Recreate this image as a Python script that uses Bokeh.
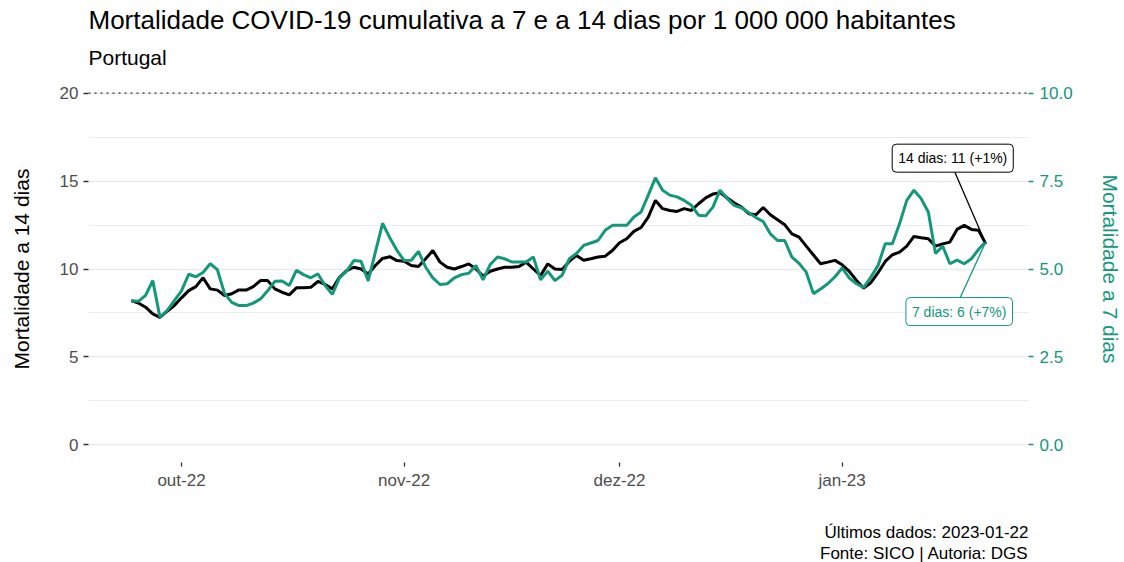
import pandas as pd
from bokeh.plotting import figure
from bokeh.models import Range1d, LinearAxis, FixedTicker, Span, Label, Title, NumeralTickFormatter
from bokeh.embed import file_html
from bokeh.resources import INLINE

# ---------------- data ----------------
START = "2022-09-24"
END = "2023-01-21"

# 14-day cumulative mortality per 1 000 000 (left axis)
mort14 = [
    8.20, 8.07, 7.83, 7.45, 7.25, 7.60, 7.92, 8.36, 8.77, 9.00,
    9.50, 8.87, 8.80, 8.49, 8.59, 8.81, 8.80, 9.00, 9.34, 9.34,
    8.87, 8.68, 8.53, 8.93, 8.93, 8.96, 9.29, 9.12, 8.87, 9.53,
    9.91, 10.10, 10.00, 9.72, 10.20, 10.60, 10.70, 10.48, 10.44, 10.20,
    10.14, 10.58, 11.05, 10.39, 10.10, 10.00, 10.14, 10.29, 10.00, 9.60,
    9.87, 10.00, 10.10, 10.10, 10.14, 10.39, 10.00, 9.63, 10.29, 10.00,
    9.97, 10.43, 10.77, 10.50, 10.58, 10.68, 10.73, 11.05, 11.49, 11.72,
    12.14, 12.36, 12.95, 13.90, 13.43, 13.33, 13.27, 13.43, 13.33, 13.71,
    14.04, 14.26, 14.34, 14.04, 13.75, 13.52, 13.14, 13.08, 13.50, 13.08,
    12.80, 12.52, 12.00, 11.81, 11.30, 10.80, 10.30, 10.39, 10.49, 10.24,
    9.86, 9.35, 8.91, 9.22, 9.79, 10.43, 10.81, 10.96, 11.30, 11.85,
    11.78, 11.72, 11.30, 11.43, 11.53, 12.25, 12.48, 12.25, 12.20, 11.43,
]

# 7-day cumulative mortality per 1 000 000 (right axis)
mort7 = [
    4.10, 4.08, 4.25, 4.67, 3.63, 3.82, 4.10, 4.38, 4.85, 4.78,
    4.90, 5.15, 4.98, 4.30, 4.05, 3.96, 3.96, 4.03, 4.15, 4.38,
    4.65, 4.66, 4.53, 4.96, 4.84, 4.75, 4.86, 4.53, 4.28, 4.75,
    4.94, 5.24, 5.22, 4.66, 5.48, 6.30, 5.89, 5.53, 5.24, 5.25,
    5.50, 5.05, 4.75, 4.56, 4.58, 4.75, 4.84, 4.88, 5.10, 4.69,
    5.13, 5.34, 5.29, 5.20, 5.20, 5.20, 5.34, 4.69, 4.94, 4.67,
    4.82, 5.29, 5.44, 5.67, 5.74, 5.81, 6.10, 6.24, 6.24, 6.24,
    6.48, 6.62, 7.10, 7.59, 7.24, 7.10, 7.05, 6.95, 6.81, 6.53,
    6.51, 6.76, 7.24, 7.00, 6.80, 6.74, 6.60, 6.46, 6.35, 6.00,
    5.81, 5.81, 5.34, 5.16, 4.91, 4.30, 4.43, 4.58, 4.78, 5.03,
    4.74, 4.58, 4.48, 4.77, 5.10, 5.72, 5.72, 6.29, 6.95, 7.24,
    7.00, 6.62, 5.44, 5.65, 5.15, 5.25, 5.15, 5.29, 5.56, 5.77,
]

month_ticks = ["2022-10-01", "2022-11-01", "2022-12-01", "2023-01-01"]
month_labels = ["out-22", "nov-22", "dez-22", "jan-23"]
left_ticks = [0, 5, 10, 15, 20]
left_minor = [2.5, 7.5, 12.5, 17.5]
right_ticks = [0, 2.5, 5, 7.5, 10]

label14 = "14 dias: 11 (+1%)"
label7 = "7 dias: 6 (+7%)"
title_text = "Mortalidade COVID-19 cumulativa a 7 e a 14 dias por 1 000 000 habitantes"
subtitle_text = "Portugal"
caption_lines = ["Últimos dados: 2023-01-22", "Fonte: SICO | Autoria: DGS"]
ylab_left = "Mortalidade a 14 dias"
ylab_right = "Mortalidade a 7 dias"

# ---------------- styling ----------------
FONT = "Liberation Sans"
GREEN = "#14977B"
GRID = "#EBEBEB"

dates = pd.date_range(START, END, freq="D")
span_days = (dates[-1] - dates[0])
pad = span_days * 0.05
x_start = dates[0] - pad
x_end = dates[-1] + pad

p = figure(
    width=1124, height=562,
    x_axis_type="datetime",
    x_range=Range1d(x_start, x_end),
    y_range=Range1d(-1, 21),
    output_backend="svg", toolbar_location=None,
    min_border_left=88, min_border_right=94,
    min_border_top=10, min_border_bottom=100,
)
p.outline_line_color = None
p.background_fill_color = "white"
p.border_fill_color = "white"

p.extra_y_ranges = {"y7": Range1d(-0.5, 10.5)}

# grid
p.xgrid.grid_line_color = None
yt = FixedTicker(ticks=left_ticks, minor_ticks=left_minor)
p.ygrid.ticker = yt
p.ygrid.grid_line_color = GRID
p.ygrid.grid_line_width = 1.3
p.ygrid.minor_grid_line_color = GRID
p.ygrid.minor_grid_line_width = 1.0

# left axis
ya = p.yaxis[0]
ya.ticker = yt
ya.axis_line_color = None
ya.minor_tick_line_color = None
ya.major_tick_in = 0
ya.major_tick_out = 5
ya.major_tick_line_color = "#333333"
ya.major_tick_line_width = 1.3
ya.major_label_text_color = "#4D4D4D"
ya.major_label_text_font = FONT
ya.major_label_text_font_size = "17px"
ya.major_label_standoff = 5
ya.axis_label = ylab_left
ya.axis_label_text_font = FONT
ya.axis_label_text_font_size = "21px"
ya.axis_label_text_font_style = "normal"
ya.axis_label_text_color = "black"
ya.axis_label_standoff = 24

# x axis
xa = p.xaxis[0]
tick_ms = [int(pd.Timestamp(d).value // 10**6) for d in month_ticks]
xa.ticker = FixedTicker(ticks=tick_ms)
overrides = {}
for t, lab in zip(tick_ms, month_labels):
    overrides[t] = lab
    overrides[str(t)] = lab
xa.major_label_overrides = overrides
xa.axis_line_color = None
xa.minor_tick_line_color = None
xa.major_tick_in = 0
xa.major_tick_out = 4
xa.major_tick_line_color = "#333333"
xa.major_tick_line_width = 1.3
xa.major_label_text_color = "#4D4D4D"
xa.major_label_text_font = FONT
xa.major_label_text_font_size = "17px"
xa.major_label_standoff = 4

# right axis
ra = LinearAxis(y_range_name="y7", ticker=FixedTicker(ticks=right_ticks),
                formatter=NumeralTickFormatter(format="0.0"))
ra.axis_line_color = None
ra.minor_tick_line_color = None
ra.major_tick_in = 0
ra.major_tick_out = 5
ra.major_tick_line_color = GREEN
ra.major_tick_line_width = 1.3
ra.major_label_text_color = GREEN
ra.major_label_text_font = FONT
ra.major_label_text_font_size = "17px"
ra.major_label_standoff = 6
ra.axis_label = ylab_right
ra.axis_label_text_font = FONT
ra.axis_label_text_font_size = "21px"
ra.axis_label_text_font_style = "normal"
ra.axis_label_text_color = GREEN
ra.axis_label_standoff = 23
p.add_layout(ra, "right")

# dotted reference line at top
p.add_layout(Span(location=left_ticks[-1], dimension="width", line_color="#333333",
                  line_dash="2 4", line_width=1.3))

# series
p.line(dates, mort14, line_color="black", line_width=3)
p.line(dates, mort7, line_color=GREEN, line_width=3, y_range_name="y7")

# labels with connectors
last = dates[-1]
day = pd.Timedelta(days=1)
p.segment(x0=[last - 4.3 * day], y0=[15.5], x1=[last], y1=[mort14[-1]],
          line_color="black", line_width=1.3)
p.segment(x0=[last - 3.6 * day], y0=[4.17], x1=[last], y1=[mort7[-1]],
          line_color=GREEN, line_width=1.3, y_range_name="y7")
p.add_layout(Label(x=last - 4.6 * day, y=16.3, text=label14,
                   text_align="center", text_baseline="middle",
                   text_font=FONT, text_font_size="14px", text_color="black",
                   background_fill_color="white", border_line_color="black",
                   border_line_width=1, border_radius=4, padding=6))
p.add_layout(Label(x=last - 3.7 * day, y=3.79, y_range_name="y7", text=label7,
                   text_align="center", text_baseline="middle",
                   text_font=FONT, text_font_size="14px", text_color=GREEN,
                   background_fill_color="white", border_line_color=GREEN,
                   border_line_width=1, border_radius=4, padding=6))

# titles (first added is closest to the plot)
p.add_layout(Title(text=subtitle_text, align="left", text_font=FONT, text_font_size="21px",
                   text_font_style="normal", text_color="black", standoff=14), "above")
p.add_layout(Title(text=title_text, align="left", text_font=FONT, text_font_size="26px",
                   text_font_style="normal", text_color="black", standoff=4), "above")

# caption under the panel: a blank spacer, then two right-aligned lines
p.add_layout(Title(text=" ", text_font_size="1px", standoff=25), "below")
for line in caption_lines:
    p.add_layout(Title(text=line, align="right", text_font=FONT, text_font_size="17px",
                       text_font_style="normal", text_color="black", standoff=0), "below")

open("out.html", "w").write(file_html(p, INLINE))
